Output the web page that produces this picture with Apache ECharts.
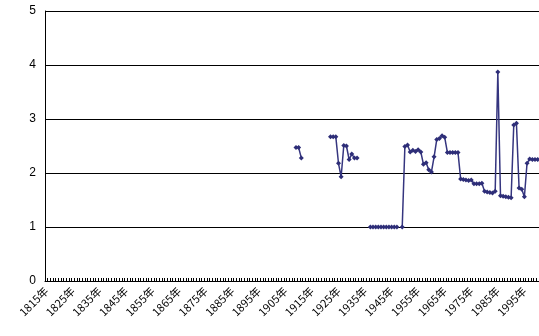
<!DOCTYPE html>
<html><head><meta charset="utf-8">
<script src="https://cdn.jsdelivr.net/npm/echarts@6/dist/echarts.min.js"></script>
<style>html,body{margin:0;padding:0;background:#fff}#c{width:539px;height:336px}</style>
</head><body><div id="c"></div>
<script>
var firstYear = 1815;
var lastYear = 2000;
var pointYears = [
  1909,1910,1911,
  1922,1923,1924,1925,1926,1927,1928,1929,1930,1931,1932,
  1937,1938,1939,1940,1941,1942,1943,1944,1945,1946,1947,
  1949,1950,1951,1952,1953,1954,1955,1956,1957,1958,1959,1960,
  1961,1962,1963,1964,1965,1966,1967,1968,1969,1970,
  1971,1972,1973,1974,1975,1976,1977,1978,1979,1980,
  1981,1982,1983,1984,1985,1986,1987,1988,1989,1990,
  1991,1992,1993,1994,1995,1996,1997,1998,1999,2000
];
var pointValues = [
  2.47,2.47,2.28,
  2.67,2.67,2.67,2.18,1.93,2.51,2.50,2.25,2.35,2.28,2.28,
  1,1,1,1,1,1,1,1,1,1,1,
  1,2.49,2.52,2.39,2.42,2.40,2.43,2.39,2.16,2.19,2.06,2.02,
  2.30,2.62,2.64,2.69,2.66,2.38,2.38,2.38,2.38,2.38,
  1.89,1.88,1.87,1.86,1.87,1.80,1.80,1.80,1.81,1.66,
  1.65,1.64,1.63,1.66,3.87,1.58,1.57,1.56,1.55,1.54,
  2.89,2.92,1.72,1.70,1.56,2.18,2.26,2.25,2.25,2.25
];
var yTicks = [0,1,2,3,4,5];

var categories = [];
for (var y = firstYear; y <= lastYear; y++) categories.push(y + '年');
var seriesData = categories.map(function(){ return null; });
pointYears.forEach(function(yr, i){ seriesData[yr - firstYear] = pointValues[i]; });

var chart = echarts.init(document.getElementById('c'), null, {renderer:'canvas'});
chart.setOption({
  animation:false,
  grid:{left:45, right:0, top:11, bottom:55, containLabel:false},
  xAxis:{
    type:'category', data:categories, boundaryGap:true,
    axisLine:{lineStyle:{color:'#000', width:1}},
    axisTick:{show:true, inside:true, length:3, interval:0, lineStyle:{color:'#000'}},
    axisLabel:{interval:9, rotate:45, margin:8, fontSize:11, color:'#000',
      fontFamily:'"Noto Sans CJK JP", sans-serif'},
    splitLine:{show:false}
  },
  yAxis:{
    type:'value', min:yTicks[0], max:yTicks[yTicks.length-1], interval:1,
    axisLine:{show:true, lineStyle:{color:'#000', width:1}},
    axisTick:{show:false},
    axisLabel:{color:'#000', fontSize:12, margin:9, fontFamily:'Arial, "Liberation Sans", sans-serif'},
    splitLine:{show:true, lineStyle:{color:'#000', width:1}}
  },
  series:[{
    type:'line', data:seriesData, connectNulls:false,
    symbol:'diamond', symbolSize:5, showSymbol:true, showAllSymbol:true,
    lineStyle:{color:'#35357f', width:1.5},
    itemStyle:{color:'#2e2e78'}
  }]
});
</script></body></html>
